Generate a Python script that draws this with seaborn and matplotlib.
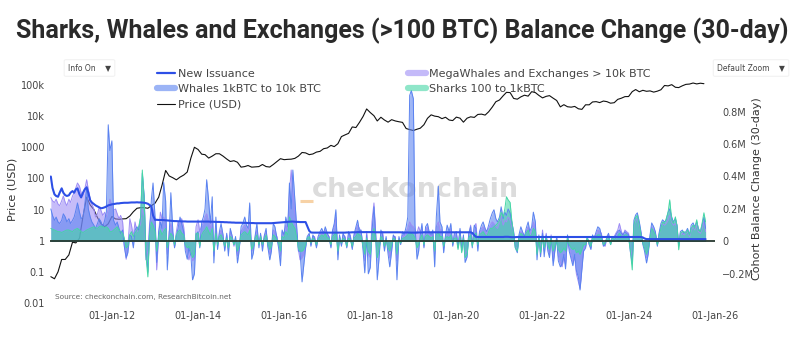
import pandas as pd
import matplotlib
matplotlib.use("Agg")
import matplotlib.pyplot as plt
import matplotlib.dates as mdates
from matplotlib.lines import Line2D
from matplotlib.ticker import FixedLocator, FixedFormatter, NullLocator
from matplotlib import font_manager
import seaborn as sns

# ---------------------------------------------------------------------------
# 30-day balance change by cohort, thousands of BTC, sampled on the 1st and
# 15th of each month from 2010-08-01 (rows: 2010 Aug-Dec, 2011 ... 2024, 2025 Jan-Oct)
# ---------------------------------------------------------------------------
balance_start = "2010-08-01"

whales_1k_10k = [
    200, 160, 130, 150, 120, 110, 130, 170, 150, 120,
    140, 110, 130, 150, 190, 237, 180, 140, 150, 220, 336, 200, 150, 120, 100, 80, 110, 140, 120, 90, 130, 180, 719, 560,
    620, 130, 100, 120, 80, 50, 70, -30, -100, -70, 40, 30, -40, 70, 90, 70, 150, 420, 280, -50, -190, 60, 260, 360,
    150, -130, 60, 120, 80, 365, 250, -176, 40, 300, 60, -40, 30, 80, 150, 110, 60, -60, -110, -40, -90, -237, -200, 40,
    60, -40, 120, 150, 200, 380, 250, 110, 275, -133, 150, -50, 60, 110, 40, -60, 50, -90, 80, 40, -20, 30, -133, -60,
    90, 110, 150, 100, 80, 237, -110, -70, 40, 110, -40, 50, -60, 30, 80, -30, -114, -60, 110, 90, 20, -40, -150, 70,
    40, 150, 90, 360, 200, 440, 256, 100, -60, -60, -250, -150, -40, 30, 50, -30, 40, 20, -40, 30, 60, 80, 50, 90,
    50, 30, -40, 70, 110, 195, -114, 40, -30, 50, 20, -40, 60, 30, -50, 40, 90, 130, 60, 70, -60, -194, 40, -200,
    -160, 60, 213, 40, -237, -114, 70, 40, -60, 30, -80, -157, -60, 40, 20, -237, 30, -20, 60, 40, 90, 150, 900, 930,
    880, 100, -110, -60, 40, 110, -40, 90, 110, 60, 40, 70, -157, 150, 340, 120, 90, -70, 40, 100, 60, 110, -30, 50,
    60, -40, 80, -60, 40, -130, -95, 50, 90, -40, 100, 80, -60, 60, 100, 120, 80, 60, 100, 140, 176, 195, 140, 120,
    150, 213, 140, 180, 160, 200, 176, 120, 60, -40, -70, 40, 90, 60, 30, 80, 120, 60, 90, 180, 120, -114, 40, -95,
    50, -95, 40, -60, -100, 30, -150, -60, 20, -120, -157, -140, -80, -170, 40, -60, -110, -150, -80, -180, -220, -300, -170, -60,
    -40, 30, -20, -50, 40, 20, 60, 90, 80, 40, -30, -20, 30, 50, -20, 30, 20, 40, 60, 70, 50, 40, 60, 50,
    40, -60, -140, 130, 163, 176, 120, 60, -20, -60, -133, -80, 40, 114, 90, 60, -30, 50, 110, 133, 120, 130, 180, 200,
    150, 120, 140, 100, -30, 60, 70, 50, 60, 80, 40, 100, 114, 90, 120, 80, 60, 100, 150, 80,
]

megawhales_exchanges = [
    270, 250, 240, 260, 230, 220, 250, 280, 240, 220,
    260, 240, 280, 300, 330, 360, 340, 300, 280, 320, 380, 320, 260, 230, 200, 150, 170, 210, 190, 160, 180, 150, 200, 260,
    220, 190, 200, 170, 140, 160, 120, -20, -110, -40, 140, 100, 30, 120, 60, 80, 110, 200, 150, -114, -60, 100, 180, 200,
    120, -176, 50, 180, 140, 150, 120, -80, 60, 110, 40, -30, 60, 120, 100, 140, 90, -30, -70, -114, -50, -120, -100, 90,
    133, 60, 100, 110, 150, 170, 120, 80, 140, -90, 80, -30, 50, 70, 20, -40, 40, -50, 60, 30, -30, 20, -90, -40,
    60, 80, 100, 80, 60, 120, -60, -40, 30, 70, -20, 40, -30, 20, 60, -20, -80, -40, 70, 60, 30, -20, -90, 60,
    30, 100, 80, 300, 440, 300, 180, 60, -50, -114, -100, -80, -30, 20, 40, -20, 30, 30, -30, 20, 40, 60, 40, 70,
    40, 30, -30, 60, 90, 150, -80, 30, -20, 40, 30, -30, 50, 40, -40, 30, 70, 100, 80, 60, -40, -120, 60, -80,
    -100, 120, 237, 60, -90, -60, 50, 60, -40, 20, -50, -100, -40, 30, 30, -120, 20, -10, 40, 30, 60, 80, 120, 100,
    90, 70, 50, 90, 60, 80, -30, 60, 90, 50, 30, 50, -80, 90, 120, 70, 70, -40, 30, 60, 40, 80, -20, 40,
    50, -30, 70, -40, 30, -80, -60, 40, 100, -20, 90, 110, -30, 50, 80, 90, 70, 40, 80, 100, 120, 110, 90, 80,
    120, 160, 100, 130, 120, 150, 130, 90, 50, -30, -50, 30, 60, 50, 20, 60, 90, 40, 70, 120, 80, -60, 30, -60,
    70, -60, 50, -40, -80, 40, -120, -50, 30, -90, -130, -157, -100, -140, 30, -40, -90, -130, -100, -200, -250, -290, -150, -40,
    -30, 20, -20, -40, 30, 30, 40, 70, 60, 50, -20, -30, 20, 40, -10, 20, 30, 50, 70, 110, 60, 40, 70, 60,
    50, -40, -100, 100, 130, 140, 90, 50, -10, -40, -100, -60, 30, 90, 70, 50, -20, 40, 90, 110, 100, 110, 130, 160,
    120, 100, 110, 80, -20, 40, 50, 40, 50, 60, 30, 70, 90, 70, 100, 60, 50, 80, 120, 60,
]

sharks_100_1k = [
    80, 75, 70, 65, 60, 60, 55, 60, 65, 70,
    70, 65, 60, 70, 75, 80, 70, 60, 55, 60, 70, 75, 80, 85, 90, 85, 80, 90, 95, 90, 85, 90, 80, 60,
    60, 70, 80, 90, 70, 60, 50, 20, -40, -30, 40, 60, 30, 50, 70, 90, 150, 440, 250, -80, -219, 40, 120, 100,
    60, -60, 30, 70, 40, 60, 80, -40, 20, 50, 30, -20, 40, 60, 70, 50, 40, -20, -40, -30, -60, -100, -80, 50,
    50, -30, 40, 60, 70, 90, 60, 40, 80, -60, 50, -20, 30, 40, 10, -30, 20, -40, 30, 20, -20, 10, -60, -30,
    40, 50, 60, 50, 40, 70, -50, -30, 20, 40, -20, 30, -20, 10, 40, -10, -50, -30, 40, 30, 10, -10, -60, 30,
    20, 60, 40, 150, 120, 100, 80, 30, -40, -60, -60, -50, -20, 20, 30, -10, 20, 10, -20, 10, 30, 40, 30, 50,
    20, 20, -20, 30, 40, 60, -60, 20, -10, 20, 10, -30, 20, 10, -30, 20, 30, 50, 40, 30, -30, -80, 20, -60,
    -80, 30, 80, 20, -100, -50, 30, 20, -30, 10, -40, -60, -20, 20, 10, -80, 10, -10, 20, 20, 30, 40, 60, 50,
    40, 20, -40, -20, 20, 40, -20, 30, 40, 30, 20, 30, -60, 40, 60, 30, 30, -30, 20, 30, 20, 40, -10, 20,
    20, -50, 30, -70, 20, -100, -80, 20, 40, -30, 40, 50, -20, 40, 50, 60, 40, 30, 60, 80, 80, 90, 100, 110,
    130, 180, 150, 200, 275, 256, 240, 130, 40, -40, -60, 20, 50, 40, 20, 50, 70, 30, 40, 80, 60, -80, 20, -70,
    30, -40, 20, -20, -50, 20, -60, -30, 10, -50, -70, -60, -40, -60, 20, -20, -40, -50, -40, -70, -60, -80, -50, -20,
    -20, 20, -10, -30, 20, 10, 30, 40, 40, 20, -20, -10, 20, 30, -20, 20, 10, 20, 30, 50, 30, 30, 40, 40,
    20, -50, -176, 100, 150, 160, 100, 40, -10, -40, -80, -50, 20, 80, 60, 40, -20, 30, 80, 120, 110, 140, 180, 256,
    130, 110, 151, 90, -52, 50, 60, 60, 50, 70, 40, 80, 100, 80, 133, 70, 60, 110, 176, 120,
]

new_issuance = [
    400, 330, 290, 280, 275, 300, 327, 300, 285, 280,
    284, 300, 310, 300, 320, 327, 290, 271, 300, 320, 333, 300, 253, 240, 230, 222, 215, 210, 204, 206, 210, 215, 222, 225,
    228, 230, 232, 234, 234, 236, 237, 238, 238, 238, 239, 240, 240, 240, 241, 240, 240, 239, 238, 236, 232, 225, 215, 160,
    133, 133, 132, 132, 132, 131, 130, 129, 128, 127, 126, 125, 125, 124, 124, 123, 123, 123, 122, 122, 122, 122, 122, 122,
    122, 122, 122, 122, 122, 122, 122, 121, 121, 121, 120, 120, 120, 119, 119, 118, 118, 117, 117, 116, 116, 115, 115, 115,
    115, 114, 114, 114, 113, 113, 113, 113, 112, 112, 112, 112, 112, 112, 112, 112, 112, 112, 113, 114, 115, 116, 117, 118,
    119, 120, 121, 122, 122, 122, 121, 120, 120, 119, 119, 119, 119, 95, 65, 55, 54, 54, 54, 54, 54, 54, 54, 54,
    54, 54, 54, 54, 54, 54, 54, 54, 54, 54, 54, 55, 55, 55, 56, 56, 56, 57, 57, 57, 57, 57, 57, 57,
    57, 57, 57, 56, 56, 56, 56, 56, 56, 56, 56, 56, 56, 56, 56, 56, 56, 56, 55, 55, 55, 55, 54, 54,
    54, 54, 54, 55, 55, 55, 56, 56, 56, 56, 56, 56, 56, 56, 56, 56, 56, 56, 56, 56, 56, 56, 56, 56,
    56, 56, 56, 56, 56, 56, 56, 56, 56, 52, 38, 28, 27, 27, 27, 27, 27, 27, 27, 27, 27, 27, 27, 27,
    27, 27, 27, 28, 28, 28, 27, 26, 26, 26, 27, 27, 27, 27, 27, 27, 27, 27, 27, 27, 27, 27, 27, 27,
    27, 27, 27, 27, 27, 27, 27, 27, 27, 27, 27, 27, 27, 27, 27, 27, 27, 27, 27, 27, 27, 27, 27, 27,
    27, 27, 27, 27, 27, 27, 27, 27, 27, 27, 27, 27, 27, 27, 27, 27, 27, 27, 27, 27, 27, 27, 27, 27,
    27, 27, 27, 27, 27, 27, 27, 27, 24, 18, 14, 14, 14, 14, 14, 14, 14, 14, 14, 14, 14, 14, 14, 14,
    14, 14, 14, 14, 14, 14, 14, 14, 14, 14, 14, 14, 14, 14, 14, 14, 14, 14, 14, 14,
]

# Monthly BTC price (USD), first of each month from 2010-08
price_start = "2010-08-01"
price_usd = [
    0.07, 0.06, 0.10, 0.25, 0.25,
    0.35, 0.9, 0.85, 1.2, 6, 25, 14, 10, 5.5, 3.5, 2.8, 3.5,
    6, 5, 4.9, 5, 5.1, 6.2, 8.5, 11, 11.5, 11.5, 11, 13.3,
    16, 25, 60, 180, 120, 105, 90, 110, 128, 160, 450, 1000,
    850, 600, 580, 450, 520, 620, 620, 520, 420, 350, 370, 330,
    230, 240, 260, 230, 235, 240, 280, 240, 232, 280, 350, 430,
    400, 410, 415, 440, 520, 680, 660, 580, 610, 700, 740, 900,
    950, 1150, 1050, 1300, 2200, 2500, 2800, 4500, 4300, 6300, 9800, 17000,
    13000, 10300, 7000, 9200, 7500, 6400, 7700, 7000, 6600, 6300, 4000, 3700,
    3450, 3800, 4100, 5300, 8500, 11000, 10000, 9600, 8300, 9200, 7500, 7200,
    9300, 8600, 6400, 8600, 9500, 9100, 11300, 11600, 10800, 13800, 19600, 29000,
    33000, 45000, 58000, 57000, 37000, 35000, 41500, 47000, 43800, 61000, 57000, 46300,
    38500, 43200, 45500, 37700, 31800, 19800, 23300, 20000, 19400, 20500, 17200, 16500,
    23100, 23100, 28500, 29200, 27200, 30500, 29200, 26000, 27000, 34500, 37700, 42300,
    42600, 61200, 71300, 60600, 67500, 62700, 64600, 59000, 63300, 70200, 96400, 93400,
    102400, 84400, 82500, 94200, 104600, 107100, 115700, 108200, 114000, 110000,
]

price_ticks = [0.01, 0.1, 1, 10, 100, 1000, 10000, 100000]
price_tick_labels = ["0.01", "0.1", "1", "10", "100", "1000", "10k", "100k"]
balance_ticks = [-200, 0, 200, 400, 600, 800]
balance_tick_labels = ["\u22120.2M", "0", "0.2M", "0.4M", "0.6M", "0.8M"]
year_ticks = ["2012-01-01", "2014-01-01", "2016-01-01", "2018-01-01",
              "2020-01-01", "2022-01-01", "2024-01-01", "2026-01-01"]

series_names = ["New Issuance", "Whales 1kBTC to 10k BTC", "Price (USD)",
                "MegaWhales and Exchanges > 10k BTC", "Sharks 100 to 1kBTC"]

# ---------------------------------------------------------------------------
balance_dates = pd.date_range(balance_start, periods=len(whales_1k_10k), freq="SMS")
balances = pd.DataFrame({
    "date": balance_dates,
    "whales": whales_1k_10k,
    "mega": megawhales_exchanges,
    "sharks": sharks_100_1k,
    "issuance": new_issuance,
})
prices = pd.DataFrame({
    "date": pd.date_range(price_start, periods=len(price_usd), freq="MS"),
    "price": price_usd,
})

sns.set_theme(style="white")
plt.rcParams["font.family"] = ["DejaVu Sans"]
names = {f.name for f in font_manager.fontManager.ttflist}
title_family = "Roboto" if "Roboto" in names else "DejaVu Sans"

W, H = 800, 344
fig = plt.figure(figsize=(W / 100, H / 100), dpi=100)
fig.patch.set_facecolor("white")

L, R, T, B = 50, 715, 80, 303
ax = fig.add_axes([L / W, 1 - B / H, (R - L) / W, (B - T) / H])
ax2 = ax.twinx()

C_ISS = "#2d4fe6"
C_WHALE = "#5a82f0"
C_MEGA = "#9d8cf5"
C_SHARK = "#45d6a5"
C_TXT = "#444444"

# price on the left log axis (underneath)
sns.lineplot(data=prices, x="date", y="price", ax=ax, color="#111111",
             linewidth=0.8, zorder=2)
ax.set_yscale("log")
ax.set_ylim(0.01, 10 ** 5.16)

# watermark
ax.text(0.549, 0.505, "checkonchain", transform=ax.transAxes, ha="center",
        va="center", fontsize=19.5, fontweight="bold", color="#dcdcdc", zorder=0)
ax.plot([0.376, 0.395], [0.458, 0.458], transform=ax.transAxes,
        color="#f7d2a6", lw=2.2, solid_capstyle="butt", zorder=0)

# cohort balance changes on the right axis
for col, colr in [("mega", C_MEGA), ("whales", C_WHALE), ("sharks", C_SHARK)]:
    ax2.fill_between(balances["date"], 0, balances[col], color=colr,
                     alpha=0.58, linewidth=0, zorder=2)
    sns.lineplot(data=balances, x="date", y=col, ax=ax2, color=colr,
                 linewidth=0.7, alpha=1.0, zorder=3)
ax2.axhline(0, color="#26382f", lw=1.3, zorder=4)
sns.lineplot(data=balances, x="date", y="issuance", ax=ax2, color=C_ISS,
             linewidth=1.5, zorder=5)
ax2.set_ylim(-380, 995)

ax.set_xlim(pd.Timestamp("2010-07-25"), pd.Timestamp("2026-01-03"))

# ticks and labels
ax.yaxis.set_major_locator(FixedLocator(price_ticks))
ax.yaxis.set_major_formatter(FixedFormatter(price_tick_labels))
ax.yaxis.set_minor_locator(NullLocator())
ax2.yaxis.set_major_locator(FixedLocator(balance_ticks))
ax2.yaxis.set_major_formatter(FixedFormatter(balance_tick_labels))
ax.xaxis.set_major_locator(FixedLocator(mdates.date2num(pd.to_datetime(year_ticks))))
ax.xaxis.set_major_formatter(mdates.DateFormatter("%d-%b-%y"))

ax.tick_params(axis="y", length=0, labelsize=7, colors=C_TXT, pad=3.6)
ax.tick_params(axis="x", length=0, labelsize=7, colors=C_TXT, pad=6)
ax2.tick_params(axis="y", length=0, labelsize=7, colors=C_TXT, pad=5)
for a in (ax, ax2):
    for s in a.spines.values():
        s.set_visible(False)
    a.grid(False)
ax.set_xlabel("")
ax.set_ylabel("Price (USD)", fontsize=8, color="#333333")
ax.yaxis.set_label_coords((17.5 - L) / (R - L), 0.51)
ax2.set_ylabel("Cohort Balance Change (30-day)", fontsize=8, color="#333333")
ax2.yaxis.set_label_coords((751.5 - L) / (R - L), 0.513)

# legends
h_iss = Line2D([], [], color=C_ISS, lw=1.6)
h_whale = Line2D([], [], color=C_WHALE, lw=4.5, alpha=0.6)
h_price = Line2D([], [], color="#111111", lw=0.8)
h_mega = Line2D([], [], color=C_MEGA, lw=4.5, alpha=0.6)
h_shark = Line2D([], [], color=C_SHARK, lw=4.5, alpha=0.6)
leg_kw = dict(loc="upper left", frameon=False, fontsize=8, handlelength=1.6,
              handletextpad=0.3, labelspacing=0.47, borderpad=0,
              borderaxespad=0, labelcolor=C_TXT, bbox_transform=fig.transFigure)
leg1 = fig.legend([h_iss, h_whale, h_price], series_names[:3],
                  bbox_to_anchor=(157 / W, 1 - 69 / H), **leg_kw)
leg2 = fig.legend([h_mega, h_shark], series_names[3:],
                  bbox_to_anchor=(408 / W, 1 - 69 / H), **leg_kw)

# title, source, menu buttons
fig.text(402 / W, 1 - 31 / H,
         "Sharks, Whales and Exchanges (>100 BTC) Balance Change (30-day)",
         ha="center", va="center", fontsize=18, fontweight="bold",
         color="#2a2a2a", family=title_family)
fig.text(55 / W, 1 - 297 / H, "Source: checkonchain.com, ResearchBitcoin.net",
         ha="left", va="center", fontsize=5.3, color="#666666")
btn = dict(boxstyle="round,pad=0.5,rounding_size=0.2", fc="white",
           ec="#f2f2f2", lw=0.8)
fig.text(68 / W, 1 - 68 / H, "Info On    \u25bc", ha="left", va="center",
         fontsize=5.5, color="#444444", bbox=btn)
fig.text(785 / W, 1 - 68 / H, "Default Zoom    \u25bc", ha="right", va="center",
         fontsize=5.5, color="#444444", bbox=btn)

fig.savefig("out.png", dpi=100, facecolor="white")
